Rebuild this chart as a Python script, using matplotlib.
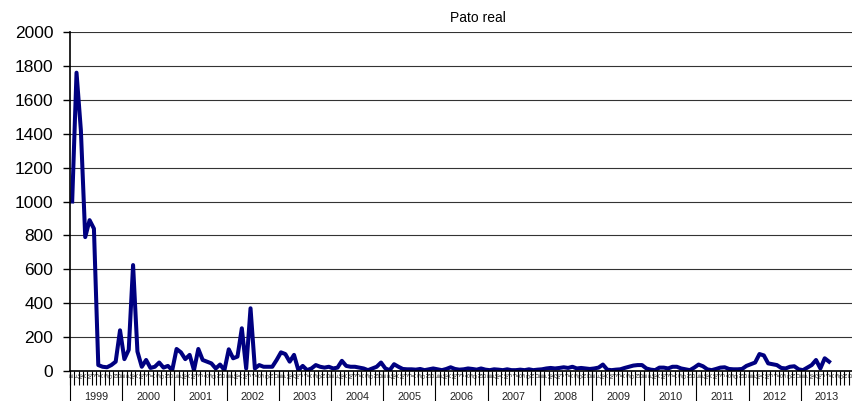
import matplotlib.pyplot as plt
from matplotlib import transforms
import numpy as np

plt.rcParams['font.family'] = ['Liberation Sans', 'DejaVu Sans']

# monthly counts, Jan 1999 - Jul 2013
v1999 = [1000, 1760, 1420, 790, 890, 840, 35, 25, 22, 35, 55, 240]
v2000 = [70, 125, 625, 115, 25, 65, 18, 25, 50, 20, 30, 5]
v2001 = [130, 110, 70, 95, 5, 130, 65, 55, 45, 15, 38, 5]
v2002 = [128, 75, 85, 252, 15, 370, 15, 35, 25, 25, 25, 65]
v2003 = [110, 100, 55, 95, 5, 30, 5, 15, 35, 25, 20, 25]
v2004 = [15, 20, 60, 30, 25, 25, 20, 15, 5, 15, 25, 50]
v2005 = [15, 5, 40, 25, 12, 10, 10, 8, 12, 5, 10, 15]
v2006 = [10, 5, 12, 22, 12, 8, 10, 15, 12, 8, 15, 8]
v2007 = [5, 10, 8, 5, 10, 5, 5, 8, 5, 10, 5, 8]
v2008 = [10, 15, 18, 15, 18, 22, 18, 25, 15, 18, 15, 12]
v2009 = [15, 20, 38, 8, 5, 8, 10, 18, 25, 32, 35, 35]
v2010 = [15, 8, 5, 20, 20, 15, 25, 25, 15, 10, 5, 20]
v2011 = [38, 28, 10, 5, 12, 20, 22, 12, 10, 10, 12, 30]
v2012 = [40, 50, 100, 92, 45, 40, 35, 18, 15, 25, 28, 10]
v2013 = [5, 20, 35, 65, 15, 75, 55]

values = (v1999 + v2000 + v2001 + v2002 + v2003 + v2004 + v2005 + v2006 +
          v2007 + v2008 + v2009 + v2010 + v2011 + v2012 + v2013)

years = list(range(1999, 2014))
month_letters = ['E', 'F', 'M', 'A', 'M', 'J', 'J', 'A', 'S', 'O', 'N', 'D']
yticks = list(range(0, 2001, 200))

fig = plt.figure(figsize=(8.53, 4.01), dpi=100)
ax = fig.add_axes([70/853, 30/401, 783/853, 339/401])

n_cat = len(years) * 12
ax.plot(range(len(values)), values, color='#000080', lw=2.9, solid_joinstyle='round')

ax.set_ylim(0, 2000)
ax.set_xlim(-0.5, -0.5 + 783/4.417)
ax.set_yticks(yticks)
ax.tick_params(axis='y', labelsize=12.5, length=5, width=1, pad=7, direction='out')
ax.yaxis.grid(True, color='#333333', lw=0.8)
ax.set_axisbelow(True)
for s in ['top', 'right']:
    ax.spines[s].set_visible(False)
ax.spines['left'].set_linewidth(1.2)
ax.spines['bottom'].set_linewidth(1.2)

# month letters + ticks
ax.set_xticks(range(n_cat))
ax.set_xticklabels(month_letters * len(years), rotation=90, fontsize=4.2, color='#222222')
ax.tick_params(axis='x', which='major', length=0, pad=1.5)
ax.set_xticks(np.arange(-0.5, n_cat), minor=True)
ax.tick_params(axis='x', which='minor', length=10, width=0.8, color='black')

# year separators and labels
trans = transforms.blended_transform_factory(ax.transData, ax.transAxes)
for k, yr in enumerate(years):
    x0 = 12 * k - 0.5
    ax.plot([x0, x0], [0, -0.1], color='black', lw=0.8, transform=trans, clip_on=False)
    xc = x0 + 6
    if yr == years[-1]:
        xc = (x0 + ax.get_xlim()[1]) / 2
    ax.text(xc, -0.078, str(yr), transform=trans, ha='center', va='center',
            fontsize=7.8, color='#222222')

fig.text(478/853, 1 - 18/401, 'Pato real', ha='center', va='center', fontsize=10)

fig.savefig('out.png', dpi=100)
